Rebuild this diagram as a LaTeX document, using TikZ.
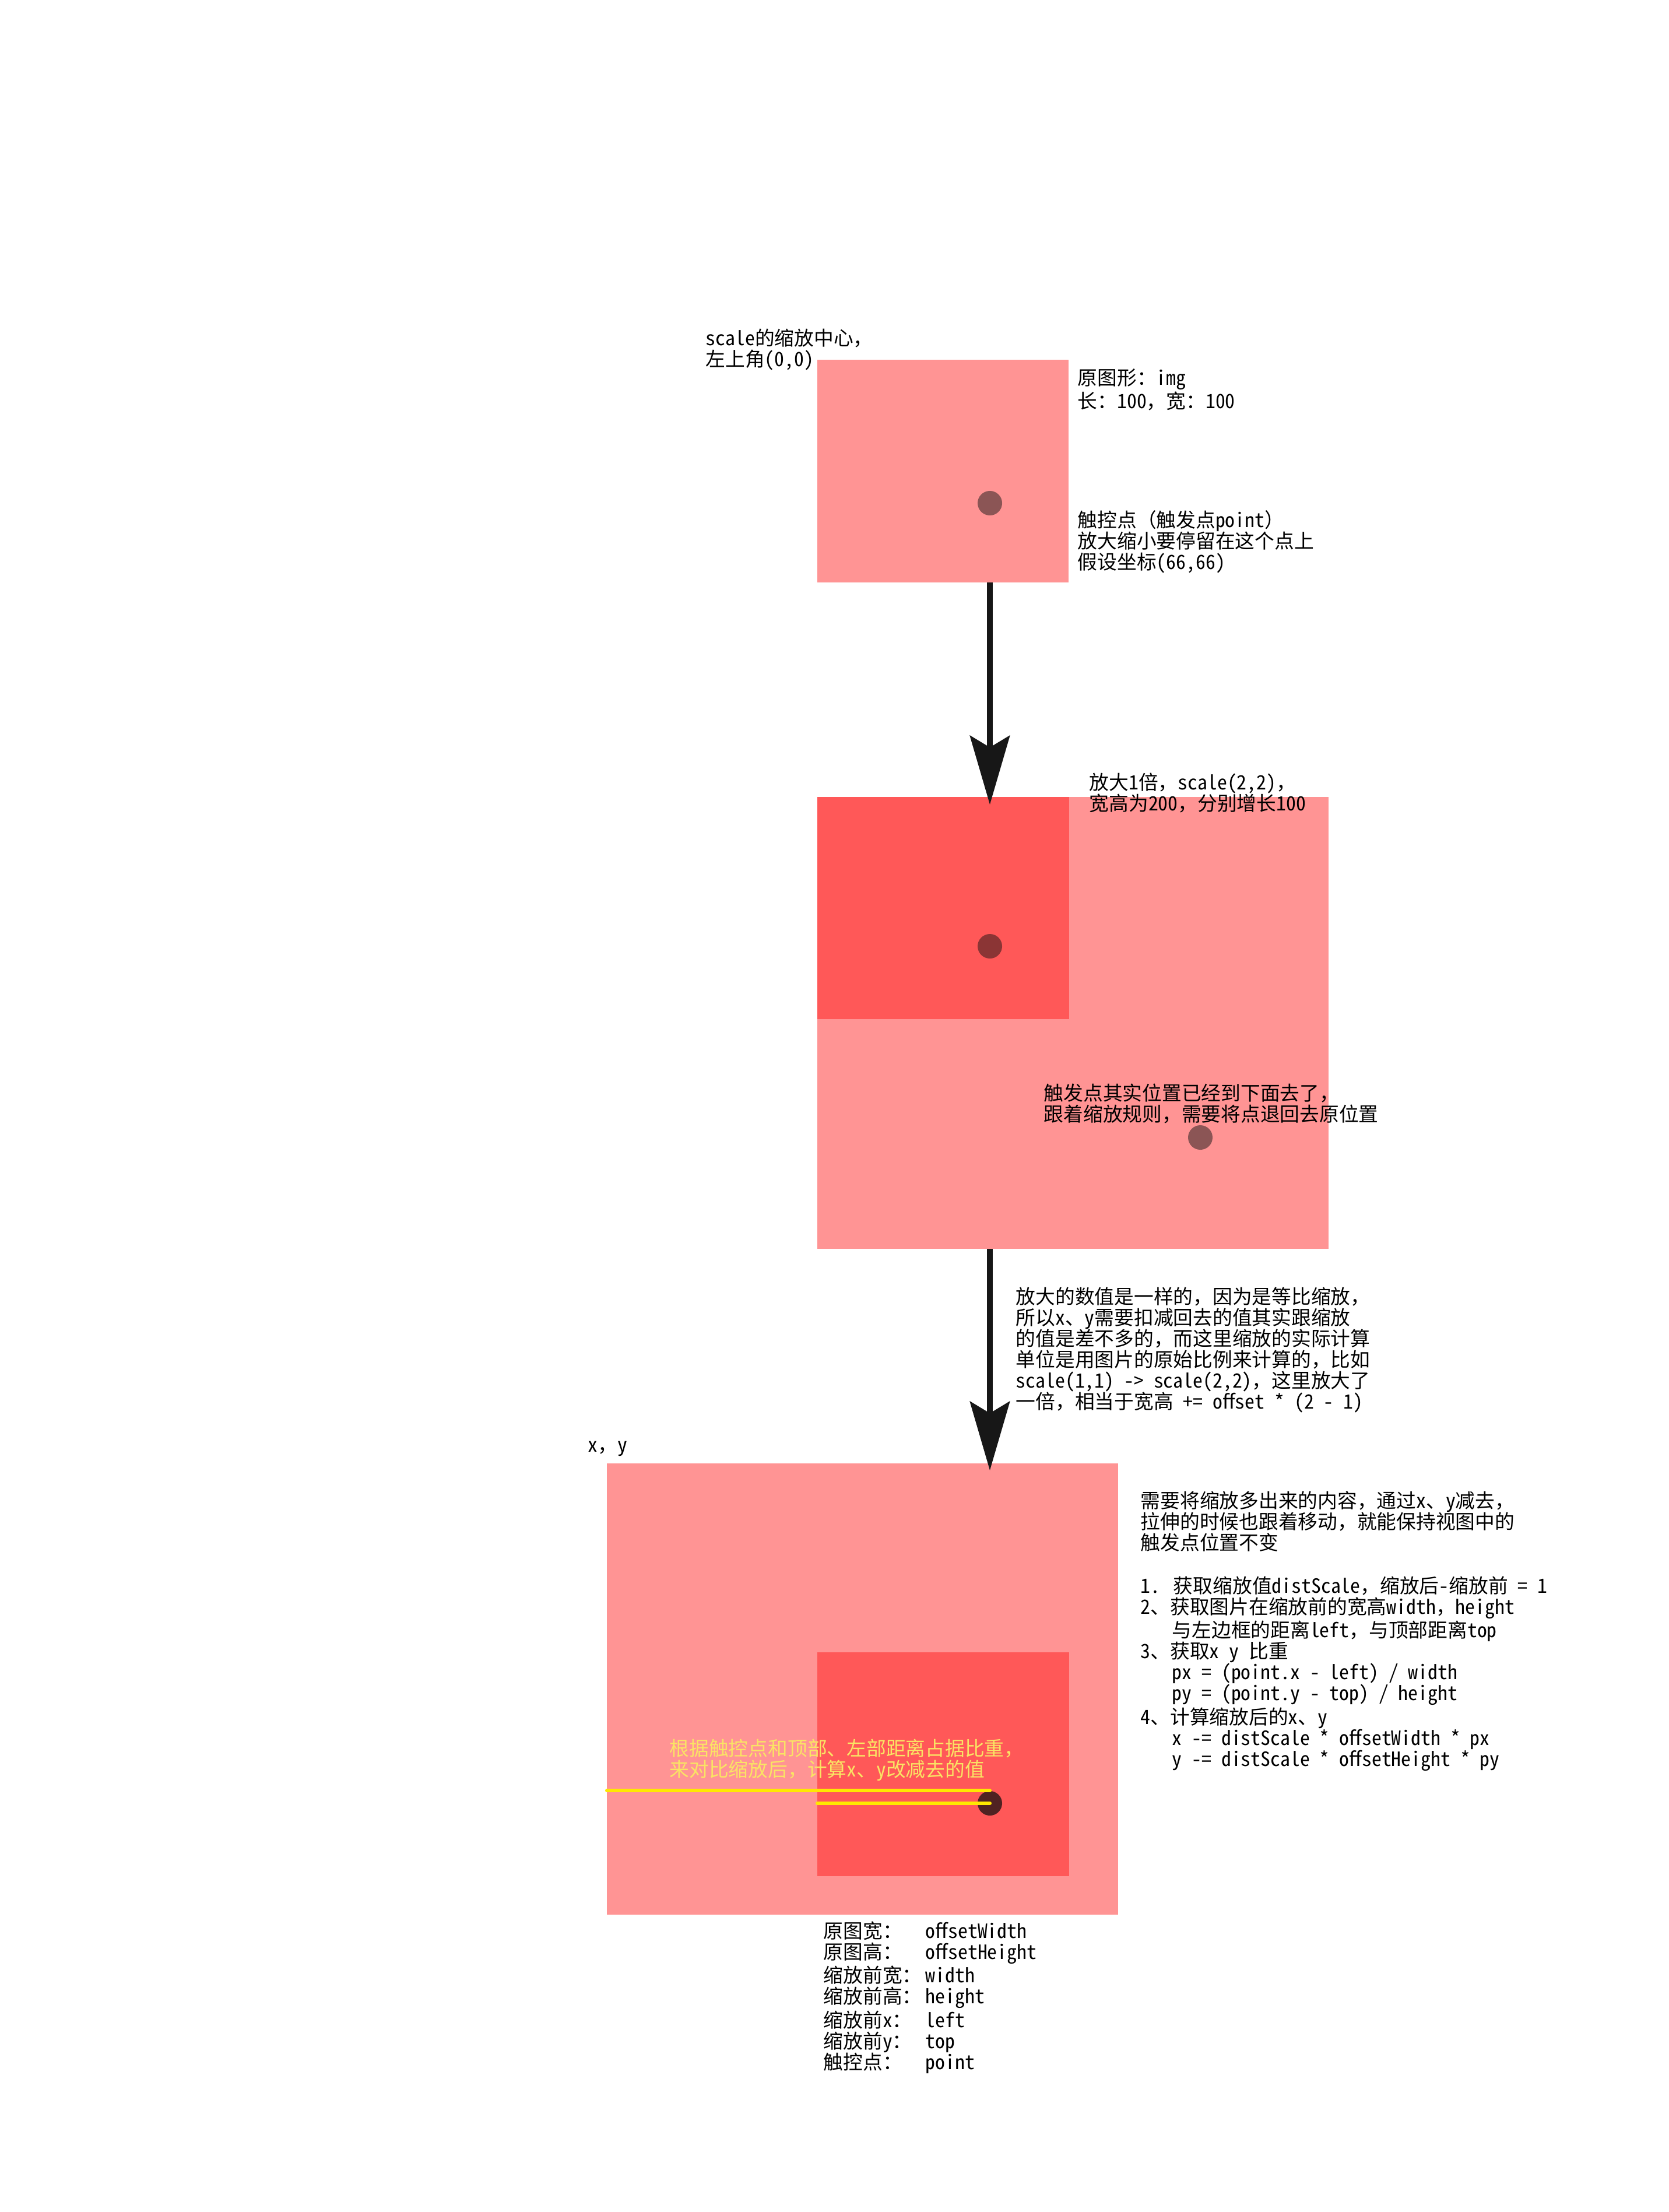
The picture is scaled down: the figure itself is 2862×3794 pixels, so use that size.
\documentclass[tikz,border=0pt]{standalone}
\usepackage{fontspec}
\setmainfont[RawFeature=+hwid]{Noto Sans CJK SC}
\newfontfamily\fw{Noto Sans CJK SC}
% full-width punctuation keeps its full width
\begingroup\lccode`~=`，\lowercase{\endgroup\def~{{\fw\char65292}}}
\begingroup\lccode`~=`（\lowercase{\endgroup\def~{{\fw\char65288}}}
\begingroup\lccode`~=`）\lowercase{\endgroup\def~{{\fw\char65289}}}
\begingroup\lccode`~=`：\lowercase{\endgroup\def~{{\fw\char65306}}}
\catcode`，=13 \catcode`（=13 \catcode`）=13 \catcode`：=13
\usetikzlibrary{arrows.meta,positioning}
\definecolor{P}{RGB}{255,148,148}
\definecolor{R}{RGB}{255,88,88}
\definecolor{D}{RGB}{139,85,85}
\definecolor{E}{RGB}{139,53,53}
\definecolor{F}{RGB}{80,34,34}
\definecolor{K}{RGB}{23,23,23}
\definecolor{Y}{RGB}{255,232,0}
\definecolor{T}{RGB}{250,228,100}
\tikzstyle{pane} = [rectangle, inner sep=0pt, outer sep=0pt, anchor=north west]
\tikzstyle{dot} = [circle, inner sep=0pt, minimum size=0.42cm]
% first line gets a fixed 0.35cm height, so the node's top is 35 units above its first baseline
\tikzstyle{note} = [anchor=north west, align=left, inner sep=0pt, yshift=0.35cm,
font=\fontsize{9.6pt}{10.25pt}\selectfont, execute at begin node={\rule{0pt}{0.35cm}}]
\tikzstyle{flow} = [line width=0.1cm, K, -{Stealth[length=1.18cm, width=0.68cm, inset=0.2cm]}]
\tikzstyle{ruler} = [line width=0.06cm, Y, line cap=round]

\begin{document}
\begin{tikzpicture}[
    x=0.01cm, y=-0.01cm, % one unit is one pixel of the screenshot
  ]
    \useasboundingbox (0,0) rectangle (2862,3794);

    % original picture
    \node[pane, fill=P, minimum width=4.31cm, minimum height=3.82cm] (img) at (1402,617) {};
    \node[dot, fill=D] (p1) at (1698,863) {};

    % scale(2,2)
    \node[pane, fill=P, minimum width=8.76cm, minimum height=7.75cm] (big) at (1402,1367) {};
    \node[pane, fill=R, minimum width=4.32cm, minimum height=3.81cm] (small) at (big.north west) {};
    \node[dot, fill=E] (p2) at (1698,1623) {};

    % moved back by x, y
    \node[pane, fill=P, minimum width=8.76cm, minimum height=7.74cm] (res) at (1041,2510) {};
    \node[pane, fill=R, minimum width=4.32cm, minimum height=3.84cm] (resin) at (1402,2834) {};
    \node[dot, fill=F] (p4) at (1698,3093) {};

    \draw[flow, shorten >=-0.13cm] (img.south -| p1) -- (big.north -| p1);
    \draw[flow, shorten >=-0.12cm] (big.south -| p2) -- (res.north -| p2);

    \draw[ruler] (res.west |- p4.north) -- (p4.north);
    \draw[ruler] (resin.west |- p4) -- (p4.center);

    \node[note] (center) at (1210,598) {scale的缩放中心，\\左上角(0,0)};
    \node[note] (orig) at (1848,667) {原图形：img\\长：100，宽：100};
    \node[note] (touch) at (1848,910) {触控点（触发点point）\\放大缩小要停留在这个点上\\假设坐标(66,66)};
    \node[note] (twice) at (1868,1360) {放大1倍，scale(2,2)，\\宽高为200，分别增长100};
    \node[note] (gone) at (1790,1893) {触发点其实位置已经到下面去了，\\跟着缩放规则，需要将点退回去原位置};
    \node[dot, fill=D] (p3) at (2059,1951) {};
    \node[note] (why) at (1742,2242) {放大的数值是一样的，因为是等比缩放，\\
      所以x、y需要扣减回去的值其实跟缩放\\
      的值是差不多的，而这里缩放的实际计算\\
      单位是用图片的原始比例来计算的，比如\\
      scale(1,1) -> scale(2,2)，这里放大了\\
      一倍，相当于宽高 += offset * (2 - 1)};
    \node[note] (xy) at (1008,2490) {x，y};
    \node[note] (steps) at (1956,2592) {需要将缩放多出来的内容，通过x、y减去，\\
      拉伸的时候也跟着移动，就能保持视图中的\\
      触发点位置不变\\[0.38cm]
      1. 获取缩放值distScale，缩放后-缩放前 = 1\\
      2、获取图片在缩放前的宽高width，height\\
      \hspace*{0.54cm}与左边框的距离left，与顶部距离top\\
      3、获取x y 比重\\
      \hspace*{0.54cm}px = (point.x - left) / width\\
      \hspace*{0.54cm}py = (point.y - top) / height\\
      4、计算缩放后的x、y\\
      \hspace*{0.54cm}x -= distScale * offsetWidth * px\\
      \hspace*{0.54cm}y -= distScale * offsetHeight * py};
    \node[note, text=T] (weight) at (1148,3017) {根据触控点和顶部、左部距离占据比重，\\来对比缩放后，计算x、y改减去的值};
    \node[note] (legend) at (1412,3330) {\makebox[1.75cm][l]{原图宽：}offsetWidth\\
      \makebox[1.75cm][l]{原图高：}offsetHeight\\
      \makebox[1.75cm][l]{缩放前宽：}width\\
      \makebox[1.75cm][l]{缩放前高：}height\\
      \makebox[1.75cm][l]{缩放前x：}left\\
      \makebox[1.75cm][l]{缩放前y：}top\\
      \makebox[1.75cm][l]{触控点：}point};
\end{tikzpicture}
\end{document}
